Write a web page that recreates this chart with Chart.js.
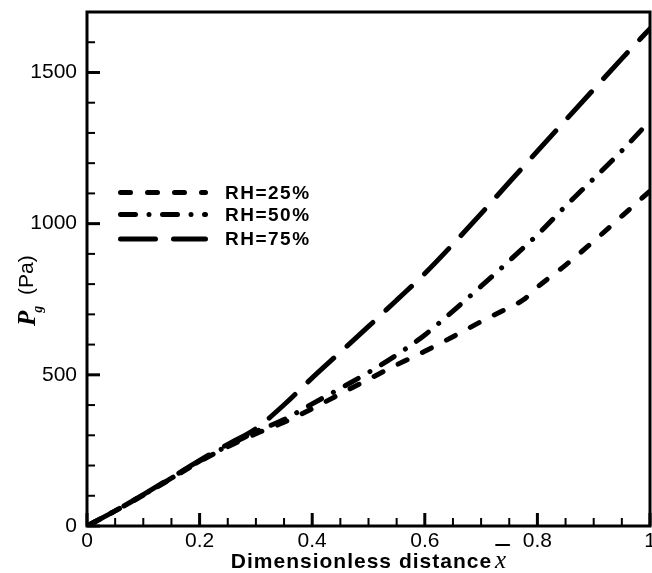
<!DOCTYPE html>
<html>
<head>
<meta charset="utf-8">
<title>Pg vs dimensionless distance</title>
<script src="https://cdn.jsdelivr.net/npm/chart.js@4/dist/chart.umd.min.js"></script>
<style>
  body { margin: 0; background: #fff; }
  canvas { display: block; }
</style>
</head>
<body>
<canvas id="chart" width="652" height="573"></canvas>
<script>
// gas pressure along the sample for three humidity levels
const xPos = [0, 0.05, 0.1, 0.15, 0.2, 0.25, 0.3, 0.35, 0.4, 0.45, 0.5,
              0.55, 0.6, 0.65, 0.7, 0.75, 0.775, 0.8, 0.85, 0.9, 0.95, 1];
const pRH25 = [0, 50, 102, 157, 213, 262, 305, 343, 388, 437, 485,
               533, 578, 626, 676, 723, 748, 790, 863, 942, 1025, 1108];
const pRH50 = [0, 50, 103, 158, 215, 265, 312, 352, 404, 455, 508,
               566, 632, 711, 793, 877, 920, 963, 1058, 1149, 1241, 1340];
const pRH75 = [0, 50, 104, 160, 217, 270, 322, 401, 490, 575, 660,
               747, 835, 932, 1033, 1137, 1188, 1240, 1342, 1444, 1546, 1645];

const seriesLabels = ['RH=25%', 'RH=50%', 'RH=75%'];
const xTickLabels = [0, 0.2, 0.4, 0.6, 0.8, 1];
const yTickLabels = [0, 500, 1000, 1500];

const SANS = '"Liberation Sans", Arial, Helvetica, sans-serif';
const SERIF = '"Liberation Serif", "Times New Roman", serif';

const dashes = [
    [10, 17],              // short dash
    [15, 13.5, 0.01, 13.5],// dash dot
    [35, 18]               // long dash
];

const toPoints = (ys) => xPos.map((x, i) => ({ x: x, y: ys[i] }));

const makeSet = (label, ys, dash) => ({
    label: label,
    data: toPoints(ys),
    borderColor: '#000',
    borderWidth: 5,
    borderDash: dash,
    borderCapStyle: 'round',
    borderJoinStyle: 'round',
    pointRadius: 0,
    fill: false,
    cubicInterpolationMode: 'monotone'
});

// inward ticks, box frame, legend and the two axis titles
const framePlugin = {
    id: 'frame',
    afterDatasetsDraw(chart) {
        const ctx = chart.ctx;
        const { left, top, right, bottom } = chart.chartArea;
        const xs = chart.scales.x;
        const ys = chart.scales.y;
        ctx.save();
        ctx.setLineDash([]);
        ctx.strokeStyle = '#000';
        ctx.lineCap = 'butt';

        for (let i = 0; i <= 20; i++) {
            const v = i * 0.05;
            const major = i % 4 === 0;
            const px = xs.getPixelForValue(v);
            ctx.lineWidth = major ? 3 : 2;
            ctx.beginPath();
            ctx.moveTo(px, bottom);
            ctx.lineTo(px, bottom - (major ? 13 : 8));
            ctx.stroke();
        }
        for (let v = 0; v <= 1700; v += 100) {
            const major = v % 500 === 0;
            const py = ys.getPixelForValue(v);
            ctx.lineWidth = major ? 3 : 2;
            ctx.beginPath();
            ctx.moveTo(left, py);
            ctx.lineTo(left + (major ? 13 : 8), py);
            ctx.stroke();
        }

        ctx.lineWidth = 3;
        ctx.strokeRect(left, top, right - left, bottom - top);
        ctx.restore();
    },
    afterDraw(chart) {
        const ctx = chart.ctx;
        const { left, right, bottom } = chart.chartArea;
        ctx.save();

        // legend
        const rowY = [192.5, 214.5, 239];
        ctx.lineWidth = 5;
        ctx.lineCap = 'round';
        ctx.strokeStyle = '#000';
        ctx.fillStyle = '#000';
        ctx.font = 'bold 19px ' + SANS;
        ctx.letterSpacing = '1.5px';
        ctx.textBaseline = 'middle';
        chart.data.datasets.forEach((ds, i) => {
            ctx.setLineDash(ds.borderDash);
            ctx.beginPath();
            ctx.moveTo(120.5, rowY[i]);
            ctx.lineTo(205.5, rowY[i]);
            ctx.stroke();
            ctx.fillText(ds.label, 225, rowY[i] + 1);
        });
        ctx.setLineDash([]);

        // x title with x-bar
        const mid = (left + right) / 2;
        ctx.textBaseline = 'alphabetic';
        ctx.font = 'bold 21px ' + SANS;
        ctx.letterSpacing = '1px';
        const main = 'Dimensionless distance';
        const wMain = ctx.measureText(main).width;
        ctx.letterSpacing = '0px';
        ctx.font = 'italic 25px ' + SERIF;
        const wX = ctx.measureText('x').width;
        const x0 = mid - (wMain + 3 + wX) / 2;
        ctx.font = 'bold 21px ' + SANS;
        ctx.letterSpacing = '1px';
        ctx.fillText(main, x0, bottom + 42);
        ctx.letterSpacing = '0px';
        ctx.font = 'italic 25px ' + SERIF;
        const xx = x0 + wMain + 3;
        ctx.fillText('x', xx, bottom + 42);
        ctx.lineWidth = 2;
        ctx.beginPath();
        ctx.moveTo(xx + 1, bottom + 19);
        ctx.lineTo(xx + wX + 3, bottom + 19);
        ctx.stroke();

        // y title, rotated
        ctx.translate(35, 326);
        ctx.rotate(-Math.PI / 2);
        ctx.font = 'bold italic 25px ' + SERIF;
        ctx.fillText('P', 0, 0);
        const wP = ctx.measureText('P').width;
        ctx.font = 'bold italic 14px ' + SERIF;
        ctx.fillText('g', wP - 2, 7);
        ctx.font = '21px ' + SANS;
        ctx.fillText('(Pa)', 31, -2);
        ctx.restore();
    }
};

const ctx = document.getElementById('chart').getContext('2d');
new Chart(ctx, {
    type: 'line',
    data: {
        datasets: [
            makeSet(seriesLabels[0], pRH25, dashes[0]),
            makeSet(seriesLabels[1], pRH50, dashes[1]),
            makeSet(seriesLabels[2], pRH75, dashes[2])
        ]
    },
    options: {
        responsive: false,
        animation: false,
        devicePixelRatio: 1,
        layout: { padding: { top: 12, right: 2, left: 0, bottom: 0 } },
        plugins: {
            legend: { display: false },
            tooltip: { enabled: false }
        },
        scales: {
            x: {
                type: 'linear',
                min: 0,
                max: 1,
                grid: { display: false, drawTicks: false, tickLength: 0 },
                border: { display: false },
                ticks: {
                    stepSize: 0.05,
                    autoSkip: false,
                    maxRotation: 0,
                    padding: 3,
                    color: '#000',
                    font: { family: SANS, size: 21 },
                    callback: (v) => {
                        const hit = xTickLabels.find(t => Math.abs(t - v) < 1e-6);
                        return hit === undefined ? '' : String(hit);
                    }
                },
                afterFit: (s) => { s.height = 47; s.paddingLeft = 0; s.paddingRight = 0; }
            },
            y: {
                min: 0,
                max: 1700,
                grid: { display: false, drawTicks: false, tickLength: 0 },
                border: { display: false },
                ticks: {
                    stepSize: 100,
                    autoSkip: false,
                    padding: 10,
                    color: '#000',
                    font: { family: SANS, size: 21 },
                    callback: (v) => yTickLabels.includes(v) ? String(v) : ''
                },
                afterFit: (s) => { s.width = 87; s.paddingTop = 0; s.paddingBottom = 0; }
            }
        }
    },
    plugins: [framePlugin]
});
</script>
</body>
</html>
